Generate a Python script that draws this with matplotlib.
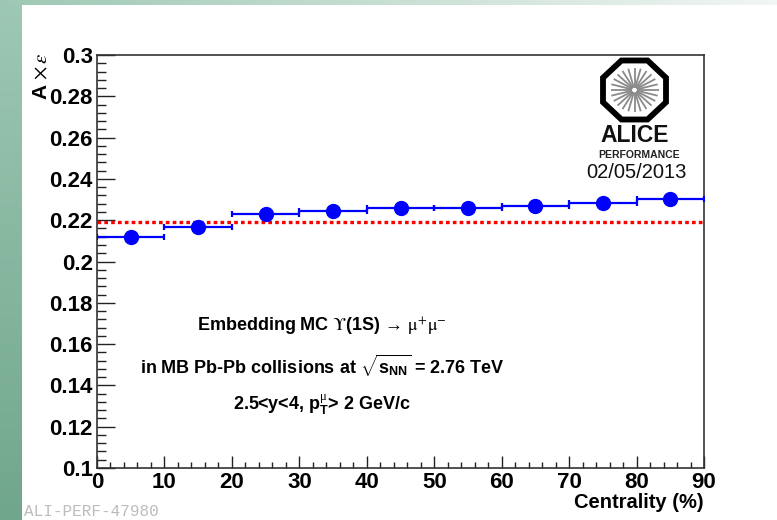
import numpy as np
import matplotlib
matplotlib.use("Agg")
import matplotlib.pyplot as plt
from matplotlib.patches import Polygon
from matplotlib.ticker import MultipleLocator, FormatStrFormatter

# ---- data ----
bin_low = [0, 10, 20, 30, 40, 50, 60, 70, 80]
bin_high = [10, 20, 30, 40, 50, 60, 70, 80, 90]
acc_eff = [0.2120, 0.2169, 0.2230, 0.2246, 0.2261, 0.2260, 0.2270, 0.2282, 0.2301]
acc_eff_err = [0.0008, 0.0008, 0.0008, 0.0008, 0.0008, 0.0008, 0.0008, 0.0008, 0.0008]
mb_value = 0.2190

x_ticks = [0, 10, 20, 30, 40, 50, 60, 70, 80, 90]
y_ticks = [0.1, 0.12, 0.14, 0.16, 0.18, 0.2, 0.22, 0.24, 0.26, 0.28, 0.3]

centers = [(a + b) / 2 for a, b in zip(bin_low, bin_high)]
halfw = [(b - a) / 2 for a, b in zip(bin_low, bin_high)]

plt.rcParams['font.family'] = ['Liberation Sans', 'DejaVu Sans']
plt.rcParams['mathtext.fontset'] = 'custom'
plt.rcParams['mathtext.rm'] = 'Liberation Sans:bold'
plt.rcParams['mathtext.bf'] = 'Liberation Sans:bold'
plt.rcParams['mathtext.it'] = 'Liberation Serif'
plt.rcParams['mathtext.sf'] = 'Liberation Sans:bold'

W, H = 777, 520
fig = plt.figure(figsize=(W / 100, H / 100), dpi=100)
fig.patch.set_facecolor('white')

def fx(px):
    return px / W

def fy(py):
    return 1 - py / H

# ---- slide background strips ----
left = fig.add_axes([0, 0, 22 / W, 1], zorder=-5)
c_top = np.array([158, 200, 180]) / 255
c_bot = np.array([112, 166, 140]) / 255
t = np.linspace(0, 1, 256)[:, None]
grad = c_top[None, None, :] * (1 - t[..., None]) + c_bot[None, None, :] * t[..., None]
left.imshow(grad, aspect='auto', extent=[0, 1, 0, 1])
left.axis('off')

top = fig.add_axes([0, 1 - 5 / H, 1, 5 / H], zorder=-5)
c_l = np.array([158, 200, 180]) / 255
c_r = np.array([242, 246, 244]) / 255
s = np.linspace(0, 1, 512)[None, :]
grad2 = c_l[None, None, :] * (1 - s[..., None]) + c_r[None, None, :] * s[..., None]
top.imshow(grad2, aspect='auto', extent=[0, 1, 0, 1])
top.axis('off')

# ---- main axes ----
ax = fig.add_axes([fx(97), 1 - 468 / H, fx(704) - fx(97), (468 - 55) / H])
ax.set_xlim(0, 90)
ax.set_ylim(0.1, 0.3)

ax.axhline(mb_value, color='#ff0000', lw=2.4, linestyle=(0, (1.1, 0.95)), zorder=2)

ax.errorbar(centers, acc_eff, xerr=halfw, yerr=acc_eff_err, fmt='o', color='#0000ff',
            ecolor='#0000ff', markersize=10, elinewidth=1.6, capsize=2.2, capthick=1.6,
            zorder=3)

ax.set_xticks(x_ticks)
ax.set_yticks(y_ticks)
ax.xaxis.set_minor_locator(MultipleLocator(2))
ax.yaxis.set_minor_locator(MultipleLocator(0.004))
ax.yaxis.set_major_formatter(FormatStrFormatter('%g'))
ax.tick_params(axis='both', which='both', direction='in', top=False, right=False,
               color='#222222', width=1.0)
ax.tick_params(axis='y', which='major', length=13, pad=3)
ax.tick_params(axis='y', which='minor', length=6.5)
ax.tick_params(axis='x', which='major', length=9, pad=3)
ax.tick_params(axis='x', which='minor', length=4.5)
for lab in ax.get_xticklabels() + ax.get_yticklabels():
    lab.set_fontsize(16)
    lab.set_fontweight('bold')
for sp in ax.spines.values():
    sp.set_linewidth(1.2)
    sp.set_color('#333333')

# axis titles
fig.text(fx(704), fy(503), 'Centrality (%)', ha='right', va='center',
         fontsize=14.5, fontweight='bold')
fig.text(fx(42), fy(52), r'A $\times\,\varepsilon$', rotation=90, ha='center', va='top',
         fontsize=15, fontweight='bold', math_fontfamily='stix')

# annotation text
fig.text(fx(322), fy(327), 'Embedding MC $\\mathrm{\u03d2}$(1S) \u2192 $\\mathrm{\\mu}^{+}\\mathrm{\\mu}^{-}$',
         ha='center', va='center', fontsize=13, fontweight='bold', math_fontfamily='stix')
fig.text(fx(322), fy(366), 'in MB Pb-Pb collisions at $\\sqrt{\\mathrm{s}_{\\mathrm{NN}}}$ = 2.76 TeV',
         ha='center', va='center', fontsize=13, fontweight='bold')
fig.text(fx(322), fy(405), '2.5<y<4, $\\mathrm{p}_{\\mathrm{T}}^{\\mu}$> 2 GeV/c',
         ha='center', va='center', fontsize=13, fontweight='bold')

# ALICE logo
lax = fig.add_axes([fx(598), fy(124), (671 - 598) / W, (124 - 56) / H])
lax.set_xlim(-36.5, 36.5)
lax.set_ylim(-34, 34)
lax.axis('off')
ang = np.deg2rad(22.5 + 45 * np.arange(8))
R = 1 / np.cos(np.deg2rad(22.5))
verts = np.column_stack([31.5 * R * np.cos(ang), 29.5 * R * np.sin(ang)])
lax.add_patch(Polygon(verts, closed=True, fill=False, edgecolor='black', lw=4.2,
                      joinstyle='miter'))
for a in np.deg2rad(np.arange(0, 360, 15)):
    lax.plot([2.5 * np.cos(a), 24 * np.cos(a)], [2.5 * np.sin(a), 22 * np.sin(a)],
             color='#8a8a8a', lw=1.3, solid_capstyle='butt')
fig.text(fx(635), fy(135), 'ALICE', ha='center', va='center', fontsize=16.5,
         fontweight='bold', color='#111111')
fig.text(fx(639), fy(155), 'PERFORMANCE', ha='center', va='center', fontsize=7.5,
         fontweight='bold', color='#222222')
fig.text(fx(636), fy(173), '02/05/2013', ha='center', va='center', fontsize=14.5,
         color='#111111')

fig.text(fx(24), fy(512), 'ALI-PERF-47980', ha='left', va='center', fontsize=11.5,
         family='Liberation Mono', color='#bcbcbc')

fig.savefig('out.png', dpi=100, facecolor='white')
